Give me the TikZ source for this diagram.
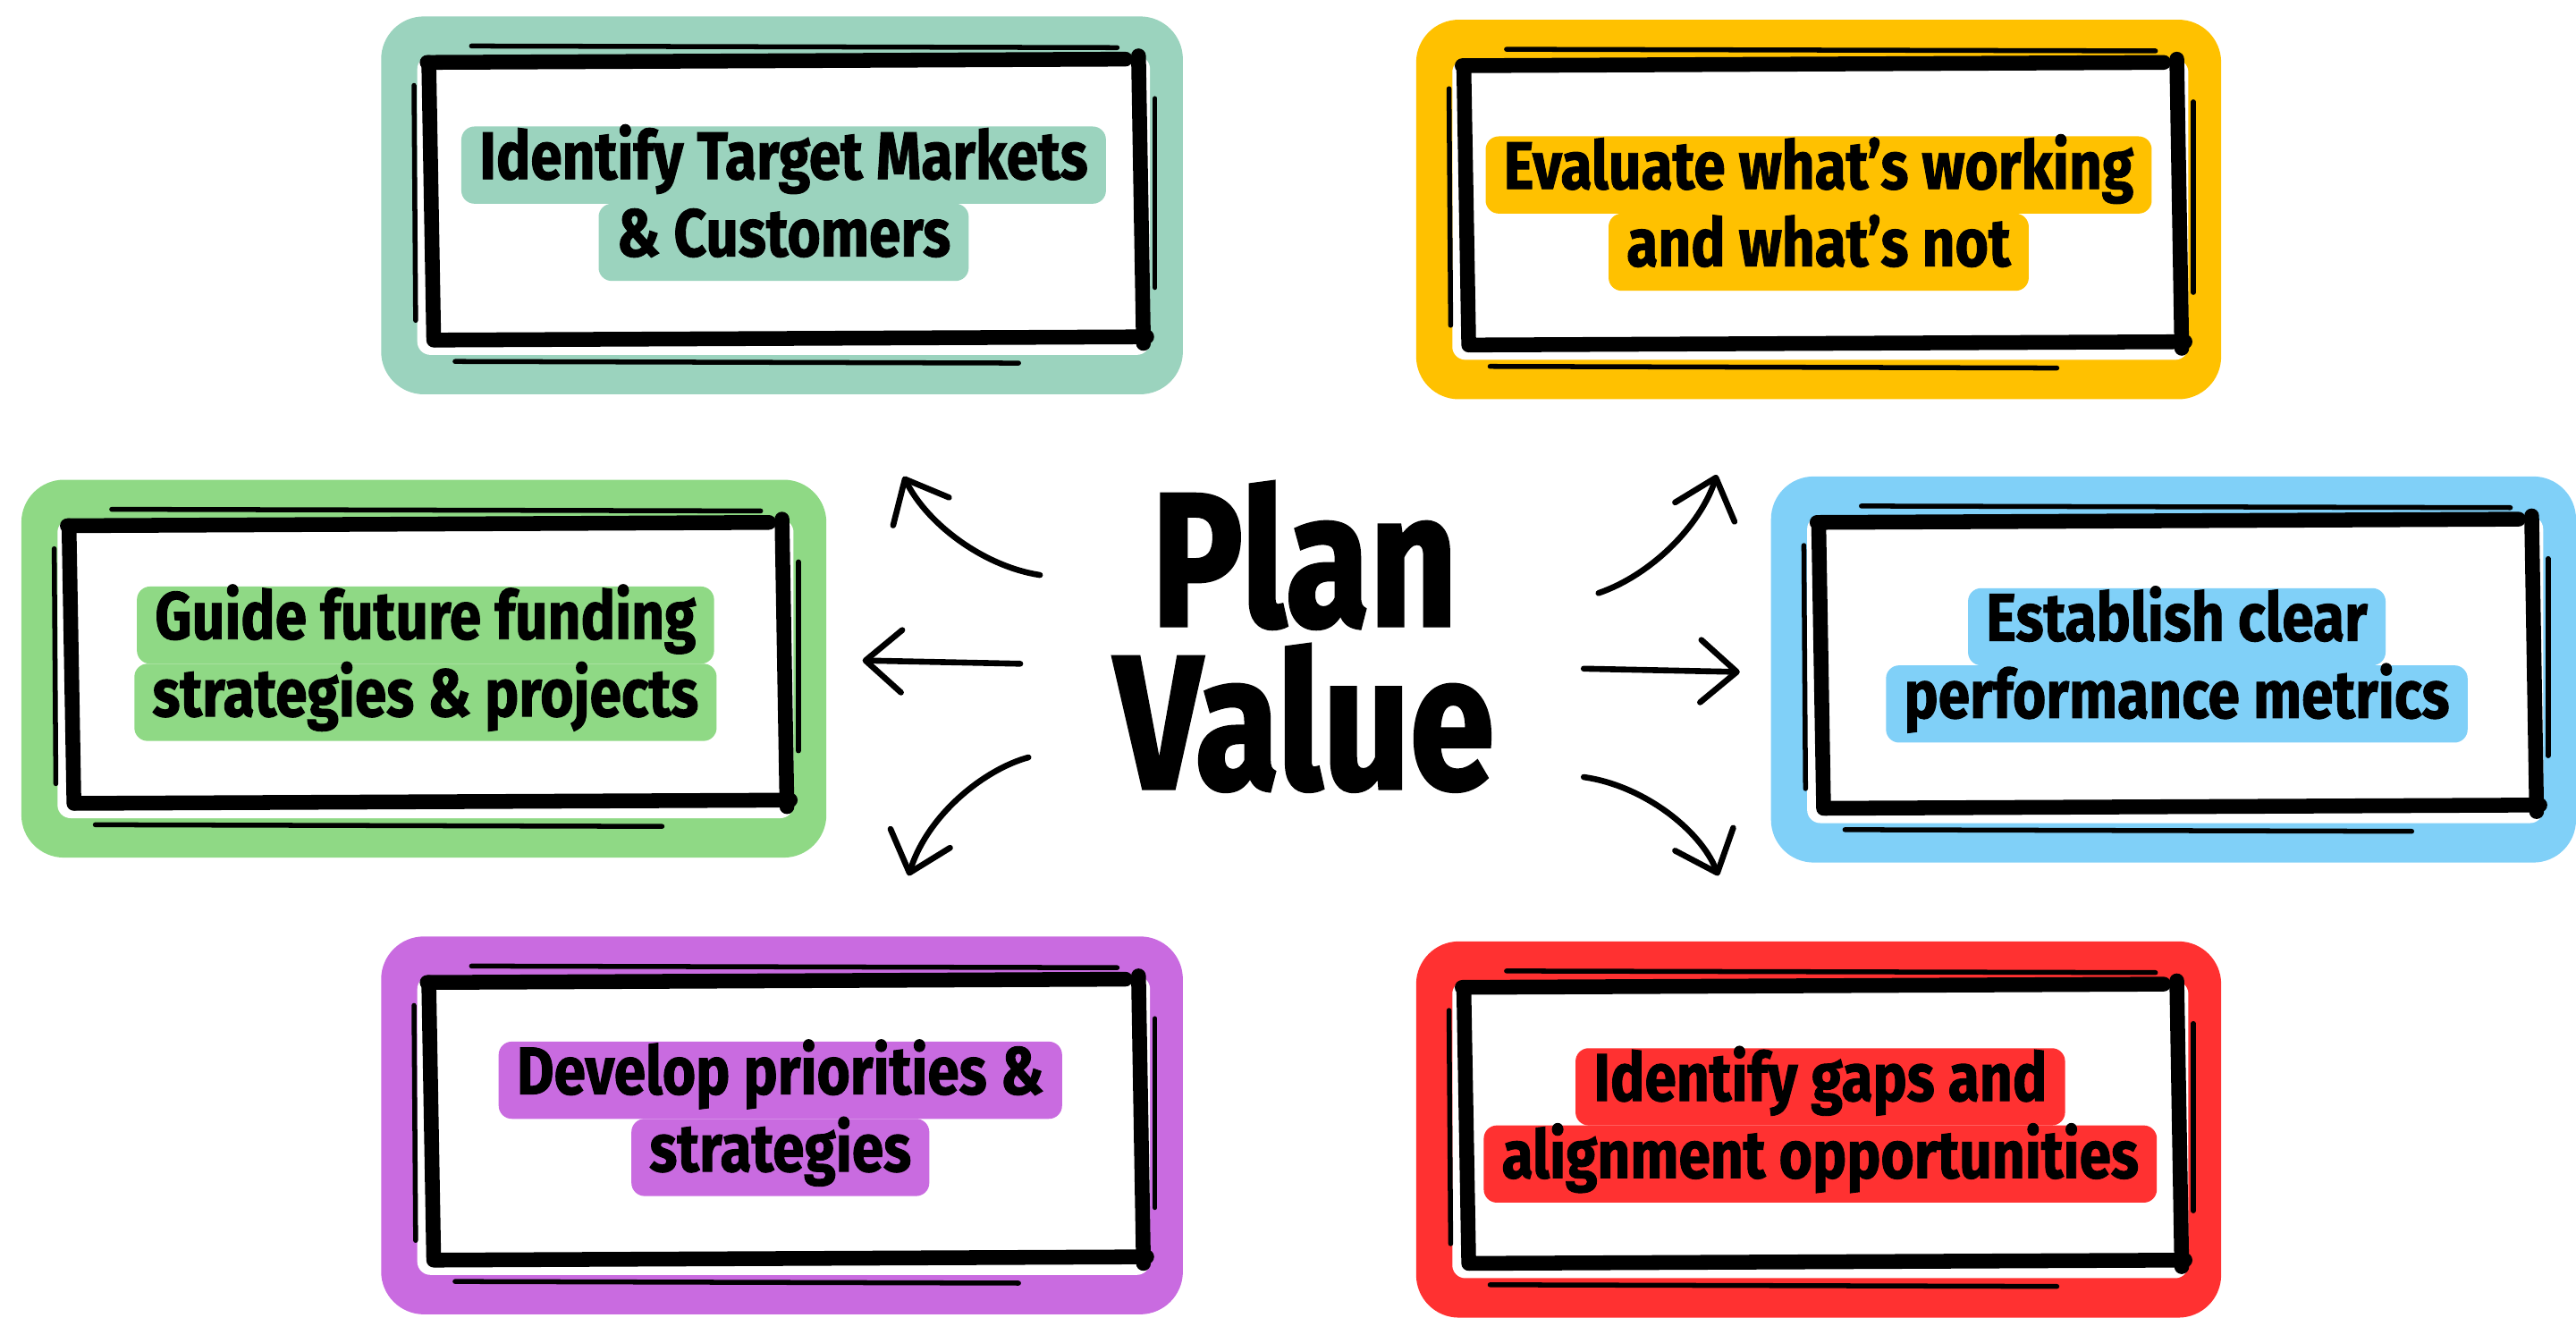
\documentclass[tikz,border=0pt]{standalone}
\usepackage{fontspec}
\setmainfont{Fira Sans}
\newfontfamily\labfont[FakeStretch=0.85, BoldFeatures={FakeBold=1.2}]{Fira Sans}
\newfontfamily\bigfont[FakeStretch=0.80, BoldFeatures={FakeBold=1.5}]{Fira Sans}
\usetikzlibrary{arrows.meta}
\definecolor{cteal}{HTML}{9BD3BE}
\definecolor{cyellow}{HTML}{FFC100}
\definecolor{cgreen}{HTML}{8FD985}
\definecolor{cblue}{HTML}{80D0F8}
\definecolor{cpurple}{HTML}{C96BE0}
\definecolor{cred}{HTML}{FF3131}
\tikzset{
  skthick/.style={line width=9pt, line cap=round, black},
  skthin/.style={line width=3pt, line cap=round, black},
  lab/.style={fill=#1, rounded corners=8pt, inner xsep=11pt, inner ysep=0pt,
    text height=32pt, text depth=15pt, anchor=base,
    font={\labfont\bfseries\fontsize{41pt}{48pt}\selectfont}},
  big/.style={anchor=base, inner sep=0pt, align=center,
    font={\bigfont\bfseries\fontsize{116pt}{99pt}\selectfont}},
  arr/.style={line width=3.6pt, line cap=round, -{Straight Barb[length=22pt,width=38pt,round]}}
}
% #1 name, #2 x0, #3 y0, #4 x1, #5 y1, #6 colour
\newcommand\skbox[6]{%
  \fill[#6, rounded corners=26pt] (#2,#3) rectangle (#4,#5);
  \fill[white, rounded corners=8pt] ({#2+22},{#3+24}) rectangle ({#4-20},{#5-24});
  \coordinate (#1) at ({(#2+#4)/2},{(#3+#5)/2});
  \draw[skthick] ({#2+28},{#3+28}) -- ({#4-35},{#3+26});
  \draw[skthin]  ({#2+55},{#3+18}) -- ({#4-40},{#3+19});
  \draw[skthick] ({#2+29},{#3+28}) -- ({#2+32},{#5-33});
  \draw[skthin]  ({#2+20},{#3+42}) -- ({#2+21},{#5-45});
  \draw[skthick] ({#4-27},{#3+24}) -- ({#4-24},{#5-31});
  \draw[skthin]  ({#4-17},{#3+50}) -- ({#4-17},{#5-65});
  \draw[skthick] ({#2+33},{#5-33}) -- ({#4-22},{#5-35});
  \draw[skthin]  ({#2+45},{#5-20}) -- ({#4-100},{#5-19});
}
\begin{document}
\begin{tikzpicture}[x=1pt,y=-1pt]
\useasboundingbox (0,0) rectangle (1568,802);

% boxes
\skbox{b1}{232}{10}{720}{240}{cteal}
\skbox{b2}{862}{12}{1352}{243}{cyellow}
\skbox{b3}{13}{292}{503}{522}{cgreen}
\skbox{b4}{1078}{290}{1568}{525}{cblue}
\skbox{b5}{232}{570}{720}{800}{cpurple}
\skbox{b6}{862}{573}{1352}{802}{cred}

% labels
\node[lab=cteal] (t1a) at (477,109) {Identify Target Markets};
\node[lab=cteal] (t1b) at (477,156) {\& Customers};
\node[lab=cyellow] (t2a) at (1107,115) {Evaluate what’s working};
\node[lab=cyellow] (t2b) at (1107,162) {and what’s not};
\node[lab=cgreen] (t3a) at (259,389) {Guide future funding};
\node[lab=cgreen] (t3b) at (259,436) {strategies \& projects};
\node[lab=cblue] (t4a) at (1325,390) {Establish clear};
\node[lab=cblue] (t4b) at (1325,437) {performance metrics};
\node[lab=cpurple] (t5a) at (475,666) {Develop priorities \&};
\node[lab=cpurple] (t5b) at (475,713) {strategies};
\node[lab=cred] (t6a) at (1108,670) {Identify gaps and};
\node[lab=cred] (t6b) at (1108,717) {alignment opportunities};

% centre
\node[big] (pv) at (794,480) {Plan\\Value};

% arrow ends
\coordinate (ulS) at (633,350);  \coordinate (ulE) at (550,290);
\coordinate (lS)  at (621,404);  \coordinate (lE)  at (525,402);
\coordinate (llS) at (626,461);  \coordinate (llE) at (553,533);
\coordinate (urS) at (973,361);  \coordinate (urE) at (1045,289);
\coordinate (rS)  at (964,407);  \coordinate (rE)  at (1059,409);
\coordinate (lrS) at (964,473);  \coordinate (lrE) at (1046,533);

\draw[arr] (ulS) .. controls (600,345) and (565,320) .. (ulE);
\draw[arr] (lS) -- (lE);
\draw[arr] (llS) .. controls (600,468) and (565,495) .. (llE);
\draw[arr] (urS) .. controls (1005,350) and (1035,320) .. (urE);
\draw[arr] (rS) -- (rE);
\draw[arr] (lrS) .. controls (1000,478) and (1035,505) .. (lrE);
\end{tikzpicture}
\end{document}
